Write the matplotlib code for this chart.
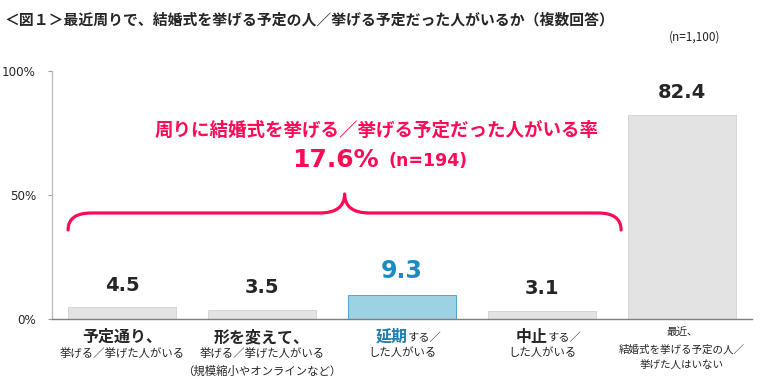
import matplotlib
matplotlib.use('Agg')
import matplotlib.pyplot as plt
from matplotlib.path import Path
from matplotlib.patches import PathPatch

CJK = ['Noto Sans CJK JP', 'DejaVu Sans']
NUM = ['DejaVu Sans', 'Noto Sans CJK JP']
plt.rcParams['font.family'] = CJK

# ---------------- data ----------------
title = "＜図１＞最近周りで、結婚式を挙げる予定の人／挙げる予定だった人がいるか（複数回答）"
sample_note = "(n=1,100)"
categories = ["予定通り", "形を変えて", "延期", "中止", "いない"]
values = [4.5, 3.5, 9.3, 3.1, 82.4]
label_head = ["予定通り、", "形を変えて、", "延期", "中止", ""]
label_head_suffix = ["", "", "する／", "する／", ""]
label_sub = [["挙げる／挙げた人がいる"],
             ["挙げる／挙げた人がいる", "（規模縮小やオンラインなど）"],
             ["した人がいる"],
             ["した人がいる"],
             ["最近、", "結婚式を挙げる予定の人／", "挙げた人はいない"]]
yticks = [0, 50, 100]
ytick_labels = ["0%", "50%", "100%"]
group_title = "周りに結婚式を挙げる／挙げる予定だった人がいる率"
group_value = "17.6%"
group_n = "(n=194)"
highlight_index = 2
group_members = [0, 1, 2, 3]

# ---------------- style ----------------
GRAY_BAR = '#e3e3e3'
GRAY_EDGE = '#d6d6d6'
BLUE_BAR = '#9dd2e2'
BLUE_EDGE = '#4fa8c8'
BLUE_TXT = '#1b8cc0'
BLUE_LBL = '#1f7db0'
RED = '#ff0a55'
TXT = '#262626'
BAR_W = 0.77

fig = plt.figure(figsize=(7.6, 3.9), dpi=100)
W, H = 760, 390
ax_left, ax_right = 52, 752
ax_top, ax_bot = 71, 318.5
ax = fig.add_axes([ax_left / W, (H - ax_bot) / H,
                   (ax_right - ax_left) / W, (ax_bot - ax_top) / H])

x = list(range(len(categories)))
colors = [BLUE_BAR if i == highlight_index else GRAY_BAR for i in x]
edges = [BLUE_EDGE if i == highlight_index else GRAY_EDGE for i in x]
ax.bar(x, values, width=BAR_W, color=colors, edgecolor=edges, linewidth=0.7, zorder=2)

ax.set_xlim(-0.5, len(categories) - 0.5)
ax.set_ylim(0, 100)
ax.set_yticks(yticks)
ax.set_yticklabels(ytick_labels, family=NUM, fontsize=8.6, color=TXT)
ax.tick_params(axis='y', length=3, width=0.8, color='#a0a0a0', pad=8.5)
ax.set_xticks([])
for s in ['top', 'right']:
    ax.spines[s].set_visible(False)
ax.spines['left'].set_color('#bdbdbd')
ax.spines['left'].set_linewidth(1.0)
ax.spines['bottom'].set_color('#7f7f7f')
ax.spines['bottom'].set_linewidth(1.0)

# value labels
for i, v in enumerate(values):
    hl = (i == highlight_index)
    ax.annotate(f"{v:.1f}", xy=(i, v), xytext=(0, 17.5 if hl else 16),
                textcoords='offset points', ha='center', va='center',
                family=NUM, fontweight='bold', fontsize=17 if hl else 14,
                color=BLUE_TXT if hl else TXT)

# category labels
xt = ax.get_xaxis_transform()
px = 0.72  # points per pixel
for i in x:
    head = label_head[i]
    suf = label_head_suffix[i]
    if head:
        if suf:
            ax.annotate(head, xy=(i, 0), xycoords=xt, xytext=(4, -18.5 * px),
                        textcoords='offset points', ha='right', va='center',
                        fontsize=11.5, fontweight='bold',
                        color=BLUE_LBL if i == highlight_index else TXT)
            ax.annotate(suf, xy=(i, 0), xycoords=xt, xytext=(4, -19.5 * px),
                        textcoords='offset points', ha='left', va='center',
                        fontsize=8.1, color=TXT)
        else:
            ax.annotate(head, xy=(i, 0), xycoords=xt, xytext=(0, -18.5 * px),
                        textcoords='offset points', ha='center', va='center',
                        fontsize=11.5, fontweight='bold', color=TXT)
        for k, line in enumerate(label_sub[i]):
            ax.annotate(line, xy=(i, 0), xycoords=xt,
                        xytext=(0, -(34.5 + 18 * k) * px),
                        textcoords='offset points', ha='center', va='center',
                        fontsize=8.2, color=TXT)
    else:
        for k, line in enumerate(label_sub[i]):
            ax.annotate(line, xy=(i, 0), xycoords=xt,
                        xytext=(0, -(14.5 + 16.5 * k) * px),
                        textcoords='offset points', ha='center', va='center',
                        fontsize=7.6, color=TXT)

# brace over the group
def px2x(p):
    return (p - ax_left) / 140.0 - 0.5

def py2y(p):
    return (ax_bot - p) / (ax_bot - ax_top) * 100

xl = min(group_members) - BAR_W / 2
xr = max(group_members) + 1 - BAR_W / 2 - 0.05
xm = (xl + xr) / 2
yb, yl, yt = py2y(230), py2y(213), py2y(194)
rc = 23 / 140.0
rt = 25 / 140.0
verts = [(xl, yb), (xl, yl), (xl + rc, yl),
         (xm - rt, yl),
         (xm, yl), (xm, yt),
         (xm, yl), (xm + rt, yl),
         (xr - rc, yl),
         (xr, yl), (xr, yb)]
codes = [Path.MOVETO, Path.CURVE3, Path.CURVE3,
         Path.LINETO,
         Path.CURVE3, Path.CURVE3,
         Path.CURVE3, Path.CURVE3,
         Path.LINETO,
         Path.CURVE3, Path.CURVE3]
ax.add_patch(PathPatch(Path(verts, codes), facecolor='none', edgecolor=RED,
                       linewidth=2.3, capstyle='round', joinstyle='round',
                       zorder=3))

ax.text(px2x(377), py2y(130), group_title, ha='center', va='center',
        fontsize=13.3, fontweight='bold', color=RED)
ax.text(px2x(379), py2y(160), group_value, ha='right', va='center',
        family=NUM, fontsize=18, fontweight='bold', color=RED)
ax.text(px2x(388), py2y(161), group_n, ha='left', va='center',
        family=NUM, fontsize=12.5, fontweight='bold', color=RED)

fig.text(5 / W, 1 - 20 / H, title, ha='left', va='center',
         fontsize=10.7, fontweight='bold', color=TXT)
fig.text(695 / W, 1 - 37 / H, sample_note, ha='center', va='center',
         fontsize=8.5, color=TXT)

fig.savefig('out.png', dpi=100)
